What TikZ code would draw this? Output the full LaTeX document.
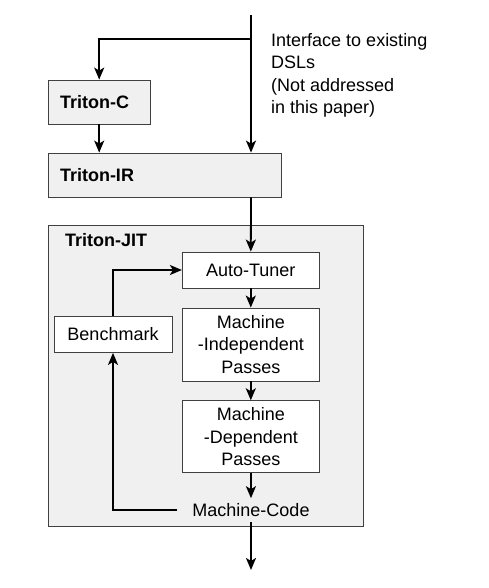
\documentclass[tikz,border=0pt]{standalone}
\usepackage{fontspec}
\setmainfont{Liberation Sans}
\usepackage{tikz}
\usetikzlibrary{shapes,arrows,arrows.meta,positioning}
\definecolor{boxgray}{HTML}{F0F0F0}
\newcommand{\diagfont}{\fontsize{18}{22.5}\selectfont}
\tikzstyle{graybox} = [rectangle, draw=black!75, line width=0.8pt, fill=boxgray, inner sep=0pt, align=left, font=\diagfont\bfseries]
\tikzstyle{whitebox} = [rectangle, draw=black!75, line width=0.8pt, fill=white, inner sep=0pt, align=center]
\tikzstyle{arrow} = [draw, line width=1.8pt, -{Stealth[length=12pt,width=10pt,inset=3pt]}]
\tikzstyle{line} = [draw, line width=1.8pt]

\begin{document}
\begin{tikzpicture}[x=1pt, y=-1pt, font=\diagfont]
			\useasboundingbox (0,0) rectangle (489,588);
			\node [graybox, minimum width=102pt, minimum height=44pt, text width=78pt] (tc) at (99.2,102) {Triton-C};
			\node [graybox, minimum width=233pt, minimum height=44pt, text width=209pt] (ir) at (164.5,175) {Triton-IR};
			\node [graybox, minimum width=315pt, minimum height=301pt] (jit) at (205.6,375.5) {};
			\node [anchor=west, inner sep=0pt, font=\diagfont\bfseries] (jitlabel) at (65,240) {Triton-JIT};
			\node [anchor=north west, inner sep=0pt, align=left] (dsl) at (271,33) {Interface to existing\\DSLs\\(Not addressed\\in this paper)};
			
			\node [whitebox, minimum width=137pt, minimum height=36pt] (at) at (250.8,270) {Auto-Tuner};
			\node [whitebox, minimum width=137pt, minimum height=73pt] (mip) at (250.8,344.5) {Machine\\-Independent\\Passes};
			\node [whitebox, minimum width=137pt, minimum height=72pt] (mdp) at (250.8,436.7) {Machine\\-Dependent\\Passes};
			\node [whitebox, minimum width=118pt, minimum height=36pt] (bench) at (113,334.5) {Benchmark};
			\node [inner xsep=15pt, inner ysep=5pt] (mc) at (251,510) {Machine-Code};
			
			\coordinate (top) at (251,15);
			\coordinate (split) at (251,39);
			\coordinate (out) at (251,570);
			
			\path [arrow] (top) -- (top |- ir.north);
			\path [arrow] (split) -| (tc.north);
			\path [arrow] (tc.south) -- (tc.south |- ir.north);
			\path [arrow] (top |- ir.south) -- (at.north);
			\path [arrow] (at) -- (mip);
			\path [arrow] (mip) -- (mdp);
			\path [arrow] (mdp) -- (mc);
			\path [arrow] (mc.west) -| (bench.south);
			\path [arrow] (bench.north) |- (at.west);
			\path [arrow] (mc.south) -- (out);
		\end{tikzpicture}
\end{document}
